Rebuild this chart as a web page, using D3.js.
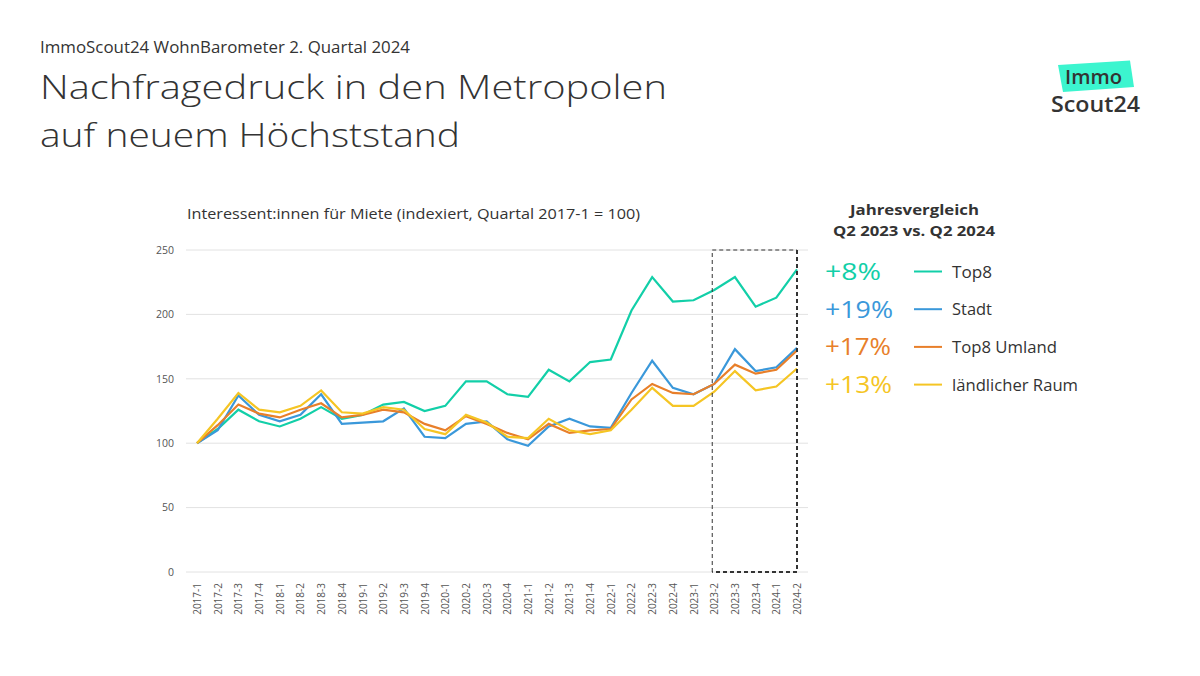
<!DOCTYPE html>
<html>
<head>
<meta charset="utf-8">
<script src="https://cdn.jsdelivr.net/npm/d3@7"></script>
<style>
  html, body { margin: 0; padding: 0; background: #fff; }
  svg { display: block; font-family: "Open Sans", Lato, sans-serif; }
</style>
</head>
<body>
<svg id="chart" width="1200" height="676"></svg>
<script>
// ---- data ----
const quarters = ["2017-1","2017-2","2017-3","2017-4","2018-1","2018-2","2018-3","2018-4",
  "2019-1","2019-2","2019-3","2019-4","2020-1","2020-2","2020-3","2020-4",
  "2021-1","2021-2","2021-3","2021-4","2022-1","2022-2","2022-3","2022-4",
  "2023-1","2023-2","2023-3","2023-4","2024-1","2024-2"];
const top8 =      [100,111,126,117,113,119,128,119,122,130,132,125,129,148,148,138,136,157,148,163,165,203,229,210,211,219,229,206,213,235];
const stadt =     [100,110,137,122,117,122,138,115,116,117,127,105,104,115,117,103,98,113,119,113,112,139,164,143,138,146,173,156,159,174];
const top8Umland =[100,114,130,123,120,126,131,120,122,126,124,115,110,121,115,108,103,115,108,110,111,134,146,139,138,146,161,154,157,172];
const laendlich = [100,119,139,126,124,129,141,124,123,128,126,111,107,122,116,105,104,119,110,107,110,126,143,129,129,140,156,141,144,158];
const yTicks = [0, 50, 100, 150, 200, 250];
const seriesNames = ["Top8", "Stadt", "Top8 Umland", "ländlicher Raum"];
const seriesChanges = ["+8%", "+19%", "+17%", "+13%"];
const seriesColors = ["#12cfa8", "#3a98da", "#e87f2a", "#f5c524"];
const highlightRange = ["2023-2", "2024-2"];

const seriesValues = [top8, stadt, top8Umland, laendlich];

// ---- helpers: widen the glyphs to the reference's text width ----
function fit(sel, target) {
  return sel.attr("textLength", target).attr("lengthAdjust", "spacingAndGlyphs");
}

// ---- layout ----
const svg = d3.select("#chart");
const textColor = "#333333";

// header texts
fit(svg.append("text").attr("x", 40).attr("y", 52.5)
  .attr("font-size", 15.5).attr("fill", textColor)
  .text("ImmoScout24 WohnBarometer 2. Quartal 2024"), 370);
fit(svg.append("text").attr("x", 40).attr("y", 98.5)
  .attr("font-size", 33).attr("fill", textColor).attr("font-weight", 300)
  .text("Nachfragedruck in den Metropolen"), 627);
fit(svg.append("text").attr("x", 40).attr("y", 147)
  .attr("font-size", 33).attr("fill", textColor).attr("font-weight", 300)
  .text("auf neuem Höchststand"), 420);

// logo
const logo = svg.append("g");
logo.append("path")
  .attr("d", "M1058,65 L1130,60.5 L1134,87 L1063,92 Z")
  .attr("fill", "#3cf5cf");
fit(logo.append("text").attr("x", 1065).attr("y", 83.5)
  .attr("font-size", 20).attr("font-weight", 600).attr("fill", "#333").text("Immo"), 57);
fit(logo.append("text").attr("x", 1051).attr("y", 112)
  .attr("font-size", 21.5).attr("font-weight", 600).attr("fill", "#333").text("Scout24"), 89);

// subtitle
fit(svg.append("text").attr("x", 187).attr("y", 219)
  .attr("font-size", 14.5).attr("fill", textColor)
  .text("Interessent:innen für Miete (indexiert, Quartal 2017-1 = 100)"), 453);

// scales
const x = d3.scalePoint().domain(quarters).range([197, 797]);
const y = d3.scaleLinear().domain([0, 250]).range([572, 250]);

// grid
const grid = svg.append("g");
grid.selectAll("line").data(yTicks).join("line")
  .attr("x1", 186).attr("x2", 808)
  .attr("y1", d => y(d)).attr("y2", d => y(d))
  .attr("stroke", "#e2e2e2").attr("stroke-width", 1);

// y axis
const yAxis = svg.append("g").attr("transform", "translate(174,0)")
  .call(d3.axisLeft(y).tickValues(yTicks).tickSize(0).tickPadding(0));
yAxis.select(".domain").remove();
yAxis.selectAll("text").attr("font-size", 10.5).attr("fill", "#555").attr("font-family", "'Open Sans', sans-serif");

// x axis
const xAxis = svg.append("g").attr("transform", "translate(0,580)")
  .call(d3.axisBottom(x).tickSize(0).tickPadding(0));
xAxis.select(".domain").remove();
xAxis.selectAll("text")
  .attr("font-size", 10).attr("fill", "#555").attr("font-family", "'Open Sans', sans-serif")
  .attr("text-anchor", "end")
  .attr("transform", "rotate(-90)")
  .attr("x", -3).attr("y", 0).attr("dy", "0.35em");

// lines
const line = d3.line().x((d, i) => x(quarters[i])).y(d => y(d));
svg.append("g").selectAll("path").data(seriesValues).join("path")
  .attr("d", d => line(d))
  .attr("fill", "none")
  .attr("stroke", (d, i) => seriesColors[i])
  .attr("stroke-width", 2.2)
  .attr("stroke-linejoin", "miter");

// highlight box
const bx0 = x(highlightRange[0]) - 2, bx1 = x(highlightRange[1]);
const by0 = y(250), by1 = y(0);
const box = svg.append("g").attr("fill", "none").attr("stroke", "#333");
box.append("path").attr("d", `M${bx0},${by1} L${bx0},${by0} L${bx1},${by0}`)
  .attr("stroke-width", 1).attr("stroke-dasharray", "4,3");
box.append("path").attr("d", `M${bx1},${by0} L${bx1},${by1} L${bx0},${by1}`)
  .attr("stroke-width", 2).attr("stroke-dasharray", "4,3");

// legend
const lg = svg.append("g");
fit(lg.append("text").attr("x", 850).attr("y", 215)
  .attr("font-size", 14.5).attr("font-weight", 700).attr("fill", textColor).text("Jahresvergleich"), 129);
fit(lg.append("text").attr("x", 833).attr("y", 236)
  .attr("font-size", 14.5).attr("font-weight", 700).attr("fill", textColor).text("Q2 2023 vs. Q2 2024"), 162);

const changeWidths = [56, 68, 66, 67];
const labelWidths = [40, 40, 105, 126];
const rows = lg.selectAll("g.row").data(seriesNames).join("g").attr("class", "row")
  .attr("transform", (d, i) => `translate(0,${i * 37.7})`);
rows.append("text").attr("x", 825).attr("y", 280)
  .attr("font-size", 24).attr("fill", (d, i) => seriesColors[i])
  .text((d, i) => seriesChanges[i])
  .each(function(d, i) { fit(d3.select(this), changeWidths[i]); });
rows.append("line").attr("x1", 914).attr("x2", 942).attr("y1", 271.5).attr("y2", 271.5)
  .attr("stroke", (d, i) => seriesColors[i]).attr("stroke-width", 2);
rows.append("text").attr("x", 952).attr("y", 277.5)
  .attr("font-size", 15.5).attr("fill", textColor).text(d => d)
  .each(function(d, i) { fit(d3.select(this), labelWidths[i]); });
</script>
</body>
</html>
